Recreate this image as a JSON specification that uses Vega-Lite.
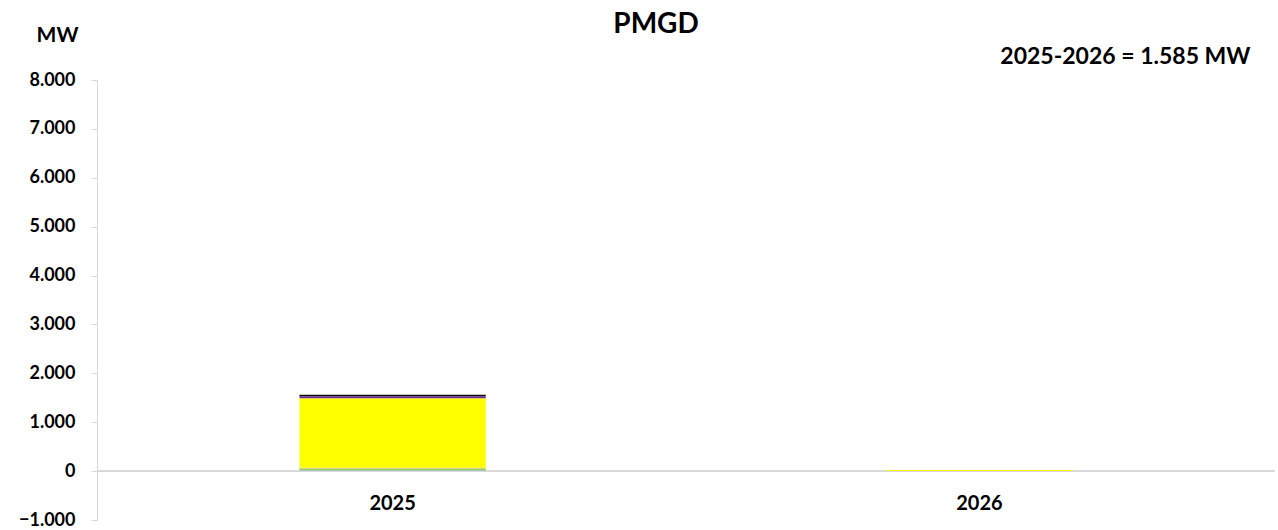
{
  "$schema": "https://vega.github.io/schema/vega-lite/v6.json",
  "autosize": "none",
  "width": 1178,
  "height": 440,
  "padding": {"left": 97, "top": 80, "right": 3, "bottom": 10},
  "background": "white",
  "config": {"view": {"stroke": null}, "font": "Lato"},
  "title": {"text": "PMGD", "fontSize": 28, "fontWeight": "bold", "font": "Lato", "color": "#000000", "anchor": "middle", "dx": -30, "offset": -15},
  "datasets": {
    "bars": [
      {"year": "2025", "tech": "Hidro", "ord": 1, "mw": 20},
      {"year": "2025", "tech": "Biomasa", "ord": 2, "mw": 35},
      {"year": "2025", "tech": "Eólica", "ord": 3, "mw": 15},
      {"year": "2025", "tech": "Solar", "ord": 4, "mw": 1420},
      {"year": "2025", "tech": "Almacenamiento", "ord": 5, "mw": 40},
      {"year": "2025", "tech": "Térmica", "ord": 6, "mw": 30},
      {"year": "2026", "tech": "Solar", "ord": 4, "mw": 25}
    ],
    "note": [{"year": "2026", "mw": 8470, "label": "2025-2026 = 1.585 MW"}]
  },
  "layer": [
    {
      "data": {"values": [{"v": 0}]},
      "mark": {"type": "rule", "color": "#d9d9d9", "strokeWidth": 2},
      "encoding": {"y": {"field": "v", "type": "quantitative", "scale": {"domain": [-1000, 8000]}}}
    },
    {
      "data": {"name": "bars"},
      "mark": {"type": "bar"},
      "encoding": {
        "x": {
          "field": "year", "type": "nominal",
          "scale": {"paddingInner": 0.6825, "paddingOuter": 0.345},
          "axis": {"title": null, "orient": "bottom", "domain": false, "ticks": false, "labelAngle": 0, "labelFontSize": 20, "labelFontWeight": "bold", "labelColor": "#000000", "labelFont": "Lato", "offset": -28, "labelPadding": 1}
        },
        "y": {
          "field": "mw", "type": "quantitative", "stack": "zero",
          "scale": {"domain": [-1000, 8000], "nice": false, "zero": false},
          "axis": {
            "title": "MW", "titleAngle": 0, "titleX": -40, "titleY": -45, "titleAlign": "center", "titleBaseline": "middle",
            "titleFontSize": 21, "titleFontWeight": "bold", "titleFont": "Lato", "titleColor": "#000000",
            "values": [-1000, 0, 1000, 2000, 3000, 4000, 5000, 6000, 7000, 8000],
            "labelExpr": "replace(format(datum.value, ','), ',', '.')",
            "labelFontSize": 18, "labelFontWeight": "bold", "labelFont": "Lato", "labelColor": "#000000",
            "grid": false, "domainColor": "#d9d9d9", "tickColor": "#d9d9d9", "tickSize": 6, "labelPadding": 16
          }
        },
        "color": {
          "field": "tech", "type": "nominal", "legend": null,
          "scale": {
            "domain": ["Hidro", "Biomasa", "Eólica", "Solar", "Almacenamiento", "Térmica"],
            "range": ["#9dc3e6", "#92d050", "#f4b183", "#ffff00", "#7030a0", "#0d0d0d"]
          }
        },
        "order": {"field": "ord", "type": "quantitative"}
      }
    },
    {
      "data": {"name": "note"},
      "mark": {"type": "text", "fontSize": 23, "fontWeight": "bold", "font": "Lato", "color": "#000000", "dx": 146, "align": "center", "baseline": "middle"},
      "encoding": {
        "x": {"field": "year", "type": "nominal"},
        "y": {"field": "mw", "type": "quantitative"},
        "text": {"field": "label"}
      }
    }
  ]
}
